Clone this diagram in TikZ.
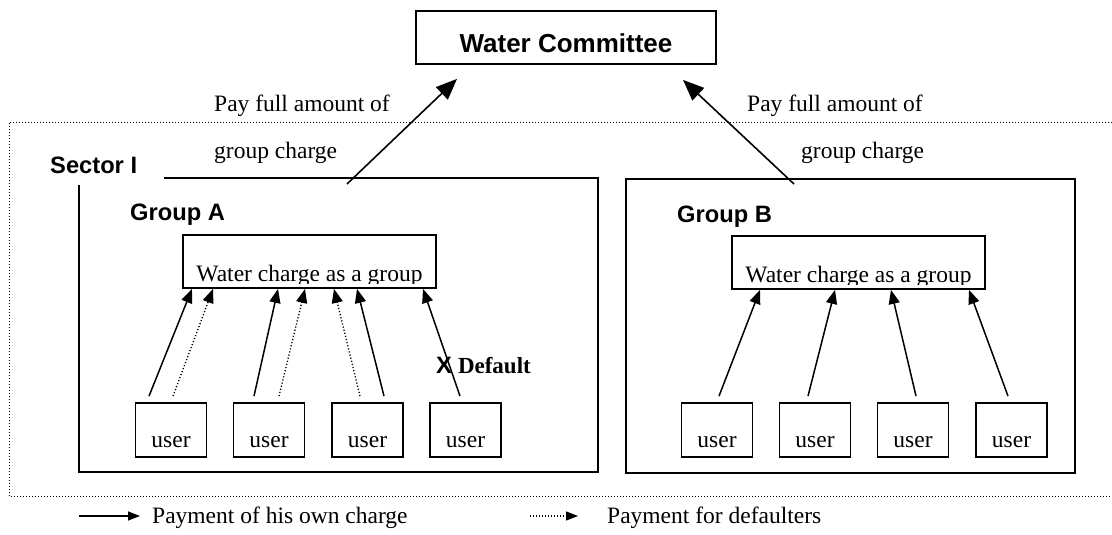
\documentclass[tikz,border=0pt]{standalone}
\usepackage{fontspec}
\setmainfont{Liberation Serif}
\newfontfamily\headfont{Liberation Sans}
\usetikzlibrary{arrows.meta}

\begin{document}
\begin{tikzpicture}[x=1pt,y=-1pt,
  frame/.style={draw,line width=1.8pt},
  serif/.style={font=\fontsize{23.5}{28}\selectfont},
  heading/.style={font=\headfont\bfseries\fontsize{23.7}{28}\selectfont,inner sep=0pt,anchor=base west},
  caption/.style={serif,inner sep=0pt,anchor=base west},
  userbox/.style={frame,serif,rectangle,inner sep=0pt,minimum width=71pt,text height=44pt,text depth=10pt},
  groupbox/.style={frame,rectangle,inner sep=0pt,minimum width=253pt,minimum height=53pt},
  own/.style={line width=1.5pt,-{Triangle[length=14pt,width=11pt]}},
  cover/.style={line width=1.3pt,dash pattern=on 1.2pt off 2pt,-{Triangle[length=14pt,width=11pt]}},
  topay/.style={line width=1.6pt,-{Triangle[length=21pt,width=17pt]}},
  sector/.style={line width=1pt,dash pattern=on 1pt off 2pt}
]
\useasboundingbox (0,0) rectangle (1112,535);

% committee at the top
\node[frame,inner sep=0pt,minimum width=300pt,text height=42pt,text depth=11pt,
      font=\headfont\bfseries\fontsize{26}{30}\selectfont] (wc) at (566,37.5) {Water Committee};

% sector outline (open to the right)
\draw[sector] (1112,122) -- (9,122) -- (9,496) -- (1112,496);
\node[heading] (sec) at (50,173) {Sector I};

% payment captions
\node[caption] (capA1) at (214,112) {Pay full amount of};
\node[caption] (capA2) at (214,158) {group charge};
\node[caption] (capB1) at (747,112) {Pay full amount of};
\node[caption] (capB2) at (801,158) {group charge};

% group frames
\draw[frame] (164,178) -- (598,178) -- (598,472) -- (79,472) -- (79,185);
\draw[frame] (626,179) rectangle (1075,473);
\node[heading] (gA) at (130,220) {Group A};
\node[heading] (gB) at (677,222) {Group B};

% group charge boxes
\node[groupbox] (wcA) at (309.5,261.5) {};
\node[groupbox] (wcB) at (858.5,262.5) {};
\begin{scope}
  \clip ([yshift=5pt]wcA.south west) rectangle (wcA.north east);
  \node[caption,anchor=base] (tA) at ([yshift=7pt]wcA.south) {Water charge as a group};
\end{scope}
\begin{scope}
  \clip ([yshift=5pt]wcB.south west) rectangle (wcB.north east);
  \node[caption,anchor=base] (tB) at ([yshift=7pt]wcB.south) {Water charge as a group};
\end{scope}

% users
\node[userbox] (uA1) at (171,430) {user};
\node[userbox] (uA2) at (269,430) {user};
\node[userbox] (uA3) at (367.5,430) {user};
\node[userbox] (uA4) at (465.5,430) {user};
\node[userbox] (uB1) at (717,430) {user};
\node[userbox] (uB2) at (815,430) {user};
\node[userbox] (uB3) at (913,430) {user};
\node[userbox] (uB4) at (1011.5,430) {user};

% payments inside group A
\draw[own]   ([xshift=-22pt,yshift=6pt]uA1.north) -- ([xshift=-117.5pt]wcA.south);
\draw[cover] ([xshift=2pt,yshift=6pt]uA1.north)   -- ([xshift=-96.5pt]wcA.south);
\draw[own]   ([xshift=-15pt,yshift=6pt]uA2.north) -- ([xshift=-31.5pt]wcA.south);
\draw[cover] ([xshift=10pt,yshift=6pt]uA2.north)  -- ([xshift=-4.5pt]wcA.south);
\draw[cover] ([xshift=-7.5pt,yshift=6pt]uA3.north) -- ([xshift=24.5pt]wcA.south);
\draw[own]   ([xshift=16.5pt,yshift=6pt]uA3.north) -- ([xshift=47.5pt]wcA.south);
\draw[own]   ([xshift=-5.5pt,yshift=6pt]uA4.north) -- ([xshift=113.5pt]wcA.south);
\node[inner sep=0pt,anchor=base west] (dflt) at (436,373)
  {{\headfont\bfseries\fontsize{23.7}{28}\selectfont X}\hspace{6pt}{\bfseries\fontsize{23}{28}\selectfont Default}};

% payments inside group B
\draw[own] ([xshift=2pt,yshift=6pt]uB1.north)    -- ([xshift=-98.5pt]wcB.south);
\draw[own] ([xshift=-7pt,yshift=6pt]uB2.north)   -- ([xshift=-23.5pt]wcB.south);
\draw[own] ([xshift=3pt,yshift=6pt]uB3.north)    -- ([xshift=32.5pt]wcB.south);
\draw[own] ([xshift=-3.5pt,yshift=6pt]uB4.north) -- ([xshift=110.5pt]wcB.south);

% groups pay the committee
\coordinate (pA) at (347,184);
\coordinate (pB) at (794,184);
\draw[topay] (pA) -- ([xshift=-109pt,yshift=-14pt]wc.south);
\draw[topay] (pB) -- ([xshift=117pt,yshift=-15pt]wc.south);

% legend
\coordinate (l1a) at (79,516);
\coordinate (l1b) at (140,516);
\coordinate (l2a) at (530,516);
\coordinate (l2b) at (578,516);
\draw[line width=1.5pt,-{Triangle[length=12pt,width=9pt]}] (l1a) -- (l1b);
\draw[line width=1.2pt,dash pattern=on 1pt off 2pt,-{Triangle[length=12pt,width=9pt]}] (l2a) -- (l2b);
\node[caption] (leg1) at (152,523) {Payment of his own charge};
\node[caption] (leg2) at (607,523) {Payment for defaulters};
\end{tikzpicture}
\end{document}
